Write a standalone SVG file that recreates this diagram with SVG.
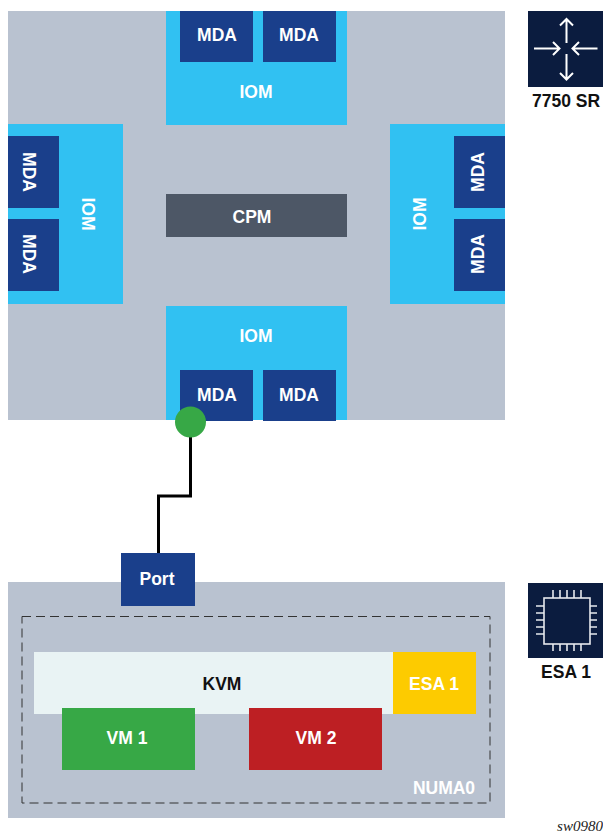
<svg xmlns="http://www.w3.org/2000/svg" width="603" height="833" viewBox="0 0 603 833">
<style>
text{font-family:"Liberation Sans",Arial,sans-serif;font-weight:700;font-size:17.5px;text-anchor:middle;fill:#fff}
.k{fill:#111}
.mda{fill:#1a3f8b}
.iom{fill:#31c1f2}
.ic{fill:none;stroke:#fff;stroke-width:2}
.chip{fill:none;stroke:#e6e9ee;stroke-width:1.600}
</style>
<rect id="chassis" x="8" y="11" width="497" height="409" fill="#b9c2d0"/>
<g id="iom-top"><rect class="iom" x="166" y="11" width="181" height="114"/><text x="256" y="98">IOM</text></g>
<g id="mda-t1"><rect class="mda" x="180" y="11" width="73" height="51"/><text x="217" y="41">MDA</text></g>
<g id="mda-t2"><rect class="mda" x="263" y="11" width="73" height="51"/><text x="299" y="41">MDA</text></g>
<g id="iom-left"><rect class="iom" x="8" y="124" width="115" height="180"/><text transform="translate(82,214) rotate(90)">IOM</text></g>
<g id="mda-l1"><rect class="mda" x="8" y="136" width="51" height="72"/><text transform="translate(23,172) rotate(90)">MDA</text></g>
<g id="mda-l2"><rect class="mda" x="8" y="219" width="51" height="72"/><text transform="translate(23,254) rotate(90)">MDA</text></g>
<g id="iom-right"><rect class="iom" x="390" y="124" width="115" height="180"/><text transform="translate(426,214) rotate(-90)">IOM</text></g>
<g id="mda-r1"><rect class="mda" x="454" y="136" width="51" height="72"/><text transform="translate(484,172) rotate(-90)">MDA</text></g>
<g id="mda-r2"><rect class="mda" x="454" y="219" width="51" height="72"/><text transform="translate(484,254) rotate(-90)">MDA</text></g>
<g id="cpm"><rect x="166" y="194" width="181" height="43" fill="#4d5766"/><text x="252" y="223">CPM</text></g>
<g id="iom-bottom"><rect class="iom" x="166" y="306" width="181" height="114"/><text x="256" y="342">IOM</text></g>
<g id="mda-b1"><rect class="mda" x="180" y="370" width="73" height="51"/><text x="217" y="401">MDA</text></g>
<g id="mda-b2"><rect class="mda" x="263" y="370" width="73" height="51"/><text x="299" y="401">MDA</text></g>
<g id="numa"><rect x="8" y="582" width="497" height="236" fill="#b9c2d0"/><rect x="22" y="616.500" width="468" height="186.500" fill="none" stroke="#333" stroke-width="1" stroke-dasharray="9 5"/><text x="444" y="794">NUMA0</text></g>
<g id="kvm"><rect x="34" y="652" width="360" height="62" fill="#e9f3f4"/><text class="k" x="222" y="690">KVM</text></g>
<g id="esa"><rect x="393" y="652" width="83" height="62" fill="#fdcb00"/><text x="434" y="690">ESA 1</text></g>
<g id="vm1"><rect x="62" y="708" width="133" height="62" fill="#37a846"/><text x="127" y="744">VM 1</text></g>
<g id="vm2"><rect x="249" y="708" width="133" height="62" fill="#bd1f23"/><text x="316" y="744">VM 2</text></g>
<g id="connectors"><path d="M190.500 437V496H158.500V553" fill="none" stroke="#000" stroke-width="3"/></g>
<g id="port-dot"><circle cx="190.500" cy="422" r="15.500" fill="#37a846"/></g>
<g id="port"><rect x="121" y="553" width="74" height="53" fill="#1a3f8b"/><text x="157" y="585">Port</text></g>
<g id="icon-sr"><rect x="528" y="11" width="75" height="76" fill="#0b1c3f"/>
<path class="ic" d="M566.500 19V43M560 25.500L566.500 19L573 25.500M566.500 80V54M560 73L566.500 79.500L573 73M534 48.500H559.500M553 42L559.500 48.500L553 55M597.500 48.500H572.500M579 42L572.500 48.500L579 55"/><text class="k" x="566" y="107">7750 SR</text></g>
<g id="icon-esa"><rect x="528" y="583" width="75" height="75" fill="#0b1c3f"/>
<rect class="chip" x="544" y="598" width="46" height="46"/>
<path class="chip" d="M553 598V590M560 598V590M567 598V590M574 598V590M581 598V590M553 644V651M560 644V651M567 644V651M574 644V651M581 644V651M544 606H536M544 613H536M544 620H536M544 627H536M544 634H536M590 606H597M590 613H597M590 620H597M590 627H597M590 634H597"/><text class="k" x="566" y="678">ESA 1</text></g>
<text x="580" y="831" style="font-family:'Liberation Serif',serif;font-style:italic;font-weight:400;font-size:15px;fill:#222">sw0980</text>
</svg>
